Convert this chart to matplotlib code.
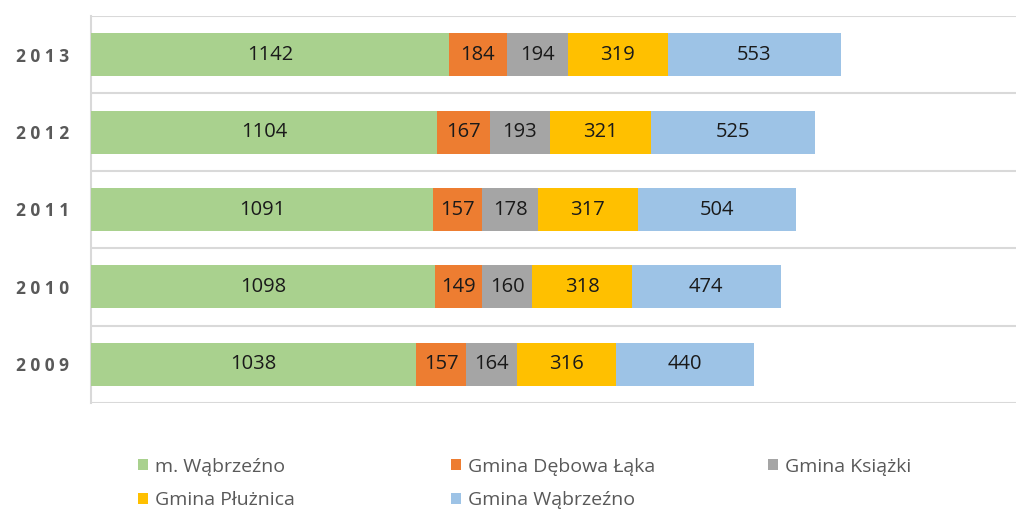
import numpy as np
import matplotlib.pyplot as plt
from matplotlib.patches import Patch

# data
years = ['2009', '2010', '2011', '2012', '2013']
series_names = ['m. Wąbrzeźno', 'Gmina Dębowa Łąka', 'Gmina Książki',
                'Gmina Płużnica', 'Gmina Wąbrzeźno']
m_wabrzezno = [1038, 1098, 1091, 1104, 1142]
debowa_laka = [157, 149, 157, 167, 184]
ksiazki = [164, 160, 178, 193, 194]
pluznica = [316, 318, 317, 321, 319]
gmina_wabrzezno = [440, 474, 504, 525, 553]
colors = ['#A9D18E', '#ED7D31', '#A5A5A5', '#FFC000', '#9DC3E6']

plt.rcParams['font.family'] = ['Open Sans', 'DejaVu Sans']

fig = plt.figure(figsize=(10.16, 5.15), dpi=100)
ax = fig.add_axes([91 / 1016, 1 - 403 / 515, 1 - 91 / 1016, (403 - 16) / 515])

y = np.arange(len(years))
left = np.zeros(len(years))
series = [m_wabrzezno, debowa_laka, ksiazki, pluznica, gmina_wabrzezno]
for vals, col, name in zip(series, colors, series_names):
    bars = ax.barh(y, vals, left=left, height=0.555, color=col, label=name, zorder=3)
    ax.bar_label(bars, labels=[str(v) for v in vals], label_type='center',
                 fontsize=14.5, color='#1a1a1a')
    left += np.array(vals)

ax.set_xlim(0, 2950)
ax.set_ylim(-0.5, len(years) - 0.5)
ax.set_yticks(y)
ax.set_yticklabels([' '.join(list(yr)) for yr in years], fontsize=12.5,
                   fontweight='bold', color='#595959')
ax.set_xticks([])
ax.tick_params(axis='y', length=0, pad=16)
ax.set_yticks(np.arange(-0.5, len(years), 1.0), minor=True)
ax.tick_params(axis='y', which='minor', length=0)
ax.grid(axis='y', which='minor', color='#D9D9D9', linewidth=1.5, zorder=0)
for s in ['top', 'right', 'bottom']:
    ax.spines[s].set_visible(False)
ax.spines['left'].set_color('#D9D9D9')
ax.spines['left'].set_linewidth(1.5)

# legend in three columns
handles = [Patch(facecolor=c, edgecolor='none') for c in colors]
columns = [[0, 3], [1, 4], [2]]
col_x = [130 / 1016, 443 / 1016, 760 / 1016]
for cx, idx in zip(col_x, columns):
    leg = fig.legend([handles[i] for i in idx], [series_names[i] for i in idx],
                     loc='upper left', bbox_to_anchor=(cx, 1 - 450 / 515),
                     frameon=False, fontsize=14, handlelength=0.5, handleheight=0.5,
                     handletextpad=0.4, labelspacing=0.8, borderaxespad=0)
    for t in leg.get_texts():
        t.set_color('#595959')

fig.savefig('out.png', dpi=100)
